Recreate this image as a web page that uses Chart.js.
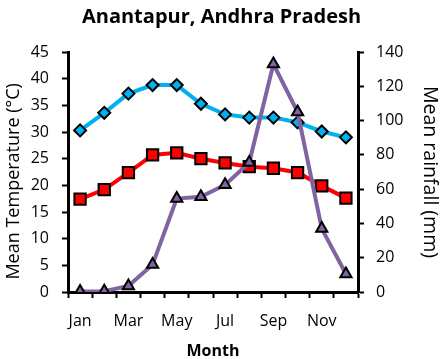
<!DOCTYPE html>
<html><head><meta charset="utf-8">
<script src="https://cdn.jsdelivr.net/npm/chart.js@4"></script>
<style>html,body{margin:0;padding:0;background:#fff}#w{width:443px;height:359px}</style>
</head><body><div id="w"><canvas id="c" width="443" height="359"></canvas></div>
<script>
const months = ['Jan','Feb','Mar','Apr','May','Jun','Jul','Aug','Sep','Oct','Nov','Dec'];
const xTickLabels = ['Jan','','Mar','','May','','Jul','','Sep','','Nov',''];
const maxTemp = [30.3, 33.6, 37.2, 38.8, 38.8, 35.3, 33.3, 32.7, 32.7, 31.8, 30.1, 29.0];
const meanTemp = [17.4, 19.2, 22.4, 25.7, 26.1, 25.0, 24.2, 23.5, 23.2, 22.4, 19.9, 17.6];
const rainfall = [0.3, 0.5, 3.5, 16, 54.5, 55.5, 62.5, 75.5, 133, 105, 37, 10.5];
const tempTicks = {min: 0, max: 45, step: 5};
const rainTicks = {min: 0, max: 140, step: 20};

const FONT = "'Open Sans', sans-serif";
Chart.defaults.font.family = FONT;
Chart.defaults.color = '#000';

new Chart(document.getElementById('c'), {
  type: 'line',
  data: {
    labels: months,
    datasets: [
      {label: 'Rainfall', data: rainfall, yAxisID: 'y1', borderColor: '#8064A2', backgroundColor: '#8064A2',
       borderWidth: 4, pointStyle: 'triangle', pointRadius: 6.5, pointBorderColor: '#000', pointBorderWidth: 2,
       pointBackgroundColor: '#8064A2', tension: 0, order: 1},
      {label: 'Mean max', data: maxTemp, yAxisID: 'y', borderColor: '#00B0F0', backgroundColor: '#00B0F0',
       borderWidth: 4, pointStyle: 'rectRot', pointRadius: 6, pointBorderColor: '#000', pointBorderWidth: 2,
       pointBackgroundColor: '#00B0F0', tension: 0, order: 2},
      {label: 'Mean', data: meanTemp, yAxisID: 'y', borderColor: '#FF0000', backgroundColor: '#FF0000',
       borderWidth: 4, pointStyle: 'rect', pointRadius: 8, pointBorderColor: '#000', pointBorderWidth: 2,
       pointBackgroundColor: '#FF0000', tension: 0, order: 3}
    ]
  },
  options: {
    responsive: false,
    animation: false,
    devicePixelRatio: 1,
    layout: {padding: {top: 0, left: 0, right: 0, bottom: 0}},
    plugins: {
      legend: {display: false},
      tooltip: {enabled: false},
      title: {display: true, text: 'Anantapur, Andhra Pradesh', color: '#000',
        font: {family: FONT, size: 20, weight: 'bold', lineHeight: 1.2}, padding: {top: 5, bottom: 23}}
    },
    scales: {
      x: {
        offset: true,
        grid: {offset: true, drawOnChartArea: false, drawTicks: true, tickLength: 6, tickWidth: 2, tickColor: '#000'},
        border: {display: true, color: '#000', width: 3},
        ticks: {autoSkip: false, maxRotation: 0, padding: 14, font: {size: 16},
          callback: (v, i) => xTickLabels[i]},
        title: {display: true, text: 'Month', font: {size: 16, weight: 'bold', lineHeight: 1}, padding: {top: 0, bottom: 0}},
        afterFit: s => { s.height = 67; }
      },
      y: {
        position: 'left',
        min: tempTicks.min, max: tempTicks.max,
        grid: {drawOnChartArea: false, drawTicks: true, tickLength: 6, tickWidth: 2, tickColor: '#000'},
        border: {display: true, color: '#000', width: 3},
        ticks: {stepSize: tempTicks.step, padding: 13, font: {size: 16}},
        title: {display: true, text: 'Mean Temperature (°C)    ', font: {size: 18, lineHeight: 1.2}, padding: {top: 3, bottom: 0}},
        afterFit: s => { s.width = 68; }
      },
      y1: {
        position: 'right',
        min: rainTicks.min, max: rainTicks.max,
        grid: {drawOnChartArea: false, drawTicks: true, tickLength: 6, tickWidth: 2, tickColor: '#000'},
        border: {display: true, color: '#000', width: 3},
        ticks: {stepSize: rainTicks.step, padding: 12, font: {size: 16}},
        title: {display: true, text: 'Mean rainfall (mm)', font: {size: 19.5, lineHeight: 1.2}, padding: {top: 2, bottom: 0}},
        afterFit: s => { s.width = 85; }
      }
    }
  }
});
</script></body></html>
